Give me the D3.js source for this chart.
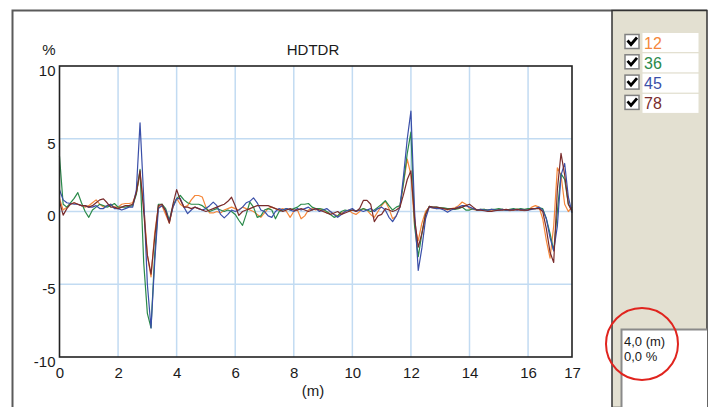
<!DOCTYPE html>
<html>
<head>
<meta charset="utf-8">
<script src="https://cdn.jsdelivr.net/npm/d3@7"></script>
<style>
  body { margin: 0; background: #fff; }
  text { font-family: Arial, "Liberation Sans", sans-serif; fill: #1a1a1a; }
</style>
</head>
<body>
<div id="chart"></div>
<script>
// distance step of the samples (m)
const step = 0.125;

const seriesNames = ["12", "36", "45", "78"];
const seriesColors = ["#f5873a", "#2a8a4a", "#3a4fa8", "#7a2c2c"];

// % readings, one value every 0.125 m from 0 to 17.5 m
const s12 = [
  0.9, 0.1, 0.3, 0.5, 0.6, 0.5, 0.4, 0.3, 0.4, 0.6,
  0.8, 0.5, 0.3, 0.4, 0.5, 0.3, 0.3, 0.5, 0.55, 0.55,
  0.6, 1.3, 2.6, 0.5, -3.0, -4.5, -1.5, 0.3, 0.4, -0.2,
  -0.8, 0.3, 0.9, 0.5, 0.3, 0.4, 0.8, 1.1, 1.1, 1.0,
  0.3, -0.1, -0.1, 0.0, -0.1, 0.1, 0.2, 0.3, 0.2, 0.1,
  0.3, 0.2, 0.1, 0.0, -0.2, -0.4, -0.1, 0.2, 0.3, 0.2,
  0.1, 0.2, 0.0, -0.4, 0.0, 0.1, -0.5, -0.3, 0.1, 0.2,
  0.1, 0.2, 0.1, -0.1, 0.0, -0.2, -0.3, -0.1, 0.0, 0.1,
  -0.1, -0.2, 0.0, 0.2, 0.1, -0.2, -0.4, 0.0, 0.4, 0.7,
  0.2, -0.5, -0.3, 0.3, 2.0, 3.6, 2.5, -1.0, -2.0, -0.8,
  0.0, 0.3, 0.25, 0.2, 0.25, 0.2, 0.1, 0.2, 0.25, 0.4,
  0.65, 0.5, 0.2, 0.15, 0.1, 0.1, 0.15, 0.1, 0.05, 0.1,
  0.1, 0.15, 0.1, 0.05, 0.1, 0.15, 0.1, 0.05, 0.1, 0.3,
  0.4, 0.3, -0.5, -2.0, -3.2, -1.0, 3.0, 2.5, 0.5, 0.0,
  0.3
];
const s36 = [
  3.8, 0.5, 0.3, 0.6, 0.9, 1.3, 0.6, 0.0, -0.4, 0.1,
  0.3, 0.5, 0.4, 0.3, 0.4, 0.55, 0.3, 0.3, 0.3, 0.35,
  0.4, 1.2, 2.9, -3.5, -7.0, -8.0, -3.0, 0.5, 0.5, 0.2,
  -0.6, 0.4, 0.9, 1.1, 0.8, 0.6, 0.5, 0.5, 0.5, 0.4,
  0.2, 0.0, 0.1, 0.2, 0.1, 0.0, 0.1, 0.0, -0.2, -0.6,
  -0.95, -0.2, 0.65, 0.3, -0.4, -0.3, 0.1, 0.2, 0.1, -0.5,
  0.0, 0.1, 0.2, 0.1, 0.2, 0.3, 0.5, 0.5, 0.55, 0.3,
  0.2, 0.2, 0.15, 0.0, -0.2, -0.4, -0.3, 0.0, 0.1, 0.05,
  0.1, 0.05, 0.1, 0.2, 0.1, 0.0, 0.1, 0.3, 0.5, 0.75,
  0.4, 0.1, 0.3, 0.4, 2.0, 4.0, 5.45, -1.0, -3.1, -1.5,
  -0.2, 0.35, 0.3, 0.3, 0.25, 0.25, 0.2, 0.2, 0.15, 0.2,
  0.3, 0.1, 0.1, 0.2, 0.1, 0.15, 0.15, 0.1, 0.15, 0.15,
  0.2, 0.15, 0.1, 0.15, 0.2, 0.15, 0.2, 0.15, 0.2, 0.2,
  0.2, 0.25, 0.2, -0.5, -1.5, -2.7, 0.0, 2.6, 2.2, 0.5,
  0.1
];
const s45 = [
  1.5, 0.8, 0.6, 0.55, 0.5, 0.5, 0.4, 0.4, 0.3, 0.3,
  0.4, 0.2, 0.2, 0.4, 0.5, 0.2, 0.2, 0.1, 0.2, 0.3,
  0.3, 1.5, 6.1, 1.0, -5.0, -8.0, -3.5, 0.2, 0.4, 0.1,
  -0.7, 0.3, 0.87, 0.9, 0.3, -0.15, 0.1, 0.3, 0.2, 0.1,
  0.2, 0.4, 0.64, 0.4, -0.2, -0.44, -0.2, 0.1, 0.0, 0.1,
  0.3, 0.6, 0.7, 0.94, 0.6, 0.1, 0.0, -0.3, -0.4, 0.0,
  0.2, 0.1, 0.2, 0.1, 0.0, 0.2, 0.1, 0.2, 0.3, 0.1,
  0.2, 0.0, 0.1, 0.2, 0.0, -0.2, -0.4, -0.2, 0.0, 0.1,
  0.2, 0.0, 0.1, 0.0, 0.1, 0.2, 0.0, 0.2, 0.3, 0.1,
  -0.4, -0.7, -0.3, 0.3, 2.5, 5.0, 6.9, 0.0, -4.05, -2.5,
  -0.5, 0.3, 0.25, 0.2, 0.2, 0.1, -0.05, 0.1, 0.2, 0.3,
  0.4, 0.4, 0.3, 0.2, 0.1, 0.15, 0.1, 0.1, 0.15, 0.1,
  0.1, 0.15, 0.1, 0.1, 0.15, 0.1, 0.15, 0.1, 0.1, 0.15,
  0.2, 0.3, 0.1, -0.5, -1.8, -2.7, -1.0, 2.5, 3.3, 1.0,
  -0.1
];
const s78 = [
  0.7, -0.25, 0.2, 0.5, 0.6, 0.5, 0.4, 0.4, 0.3, 0.4,
  0.6, 0.8, 0.87, 0.6, 0.3, 0.3, 0.2, 0.3, 0.4, 0.4,
  0.5, 1.3, 2.8, 0.0, -3.0, -4.3, -1.8, 0.4, 0.5, 0.0,
  -0.8, 0.5, 1.5, 0.8, 0.3, 0.3, 0.2, 0.3, 0.2, 0.1,
  0.0, 0.1, 0.2, 0.3, 0.4, 0.5, 0.7, 0.98, 0.4, -0.27,
  0.0, 0.1, 0.2, 0.3, 0.4, 0.4, 0.4, 0.4, 0.3, 0.2,
  0.1, 0.0, 0.1, 0.2, 0.1, 0.1, 0.2, 0.1, 0.0, 0.1,
  0.2, 0.1, 0.0, -0.1, -0.2, -0.1, 0.0, -0.2, -0.1, 0.0,
  0.1, 0.0, 0.2, 0.76, 0.76, 0.5, -0.7, -0.3, -0.2, 0.2,
  0.1, 0.0, 0.1, 0.3, 1.2, 2.2, 2.8, -0.5, -2.45, -1.5,
  -0.2, 0.35, 0.3, 0.3, 0.25, 0.2, 0.15, 0.2, 0.2, 0.25,
  0.3, 0.4, 0.5, 0.3, 0.1, 0.1, 0.05, 0.0, 0.0, 0.05,
  0.1, 0.1, 0.15, 0.1, 0.1, 0.15, 0.1, 0.1, 0.1, 0.2,
  0.2, 0.2, 0.0, -1.2, -2.8, -3.5, 1.5, 4.0, 2.5, 0.5,
  0.0
];

const xTicks = [0, 2, 4, 6, 8, 10, 12, 14, 16, 17.5];
const yTicks = [-10, -5, 0, 5, 10];
const cursorLines = ["4,0 (m)", "0,0 %"];

const W = 715, H = 407;
const svg = d3.select("#chart").append("svg")
    .attr("width", W)
    .attr("height", H);

svg.append("rect").attr("width", W).attr("height", H).attr("fill", "#fff");

// outer window frame
svg.append("path")
    .attr("d", "M12.5,407V10.5H707")
    .attr("fill", "none")
    .attr("stroke", "#5a5a5a")
    .attr("stroke-width", 2);

// side panel
svg.append("rect")
    .attr("x", 612).attr("y", 10.5)
    .attr("width", 95).attr("height", H - 10)
    .attr("fill", "#e3e0d1")
    .attr("stroke", "#333")
    .attr("stroke-width", 1.5);

const x = d3.scaleLinear().domain([0, 17.5]).range([59.5, 572]);
const y = d3.scaleLinear().domain([-10, 10]).range([357, 66]);

const plot = svg.append("g");

// grid
plot.selectAll(".vgrid")
    .data(xTicks.slice(1, -1))
    .enter().append("line")
    .attr("x1", d => x(d)).attr("x2", d => x(d))
    .attr("y1", y(10)).attr("y2", y(-10))
    .attr("stroke", "#c2dbf2").attr("stroke-width", 1.5);

plot.selectAll(".hgrid")
    .data(yTicks.slice(1, -1))
    .enter().append("line")
    .attr("x1", x(0)).attr("x2", x(17.5))
    .attr("y1", d => y(d)).attr("y2", d => y(d))
    .attr("stroke", "#c2dbf2").attr("stroke-width", 1.5);

// series
const allSeries = [s12, s36, s45, s78];
const line = d3.line()
    .x((d, i) => x(i * step))
    .y(d => y(d));

plot.selectAll(".series")
    .data(allSeries)
    .enter().append("path")
    .attr("class", "series")
    .attr("d", d => line(d))
    .attr("fill", "none")
    .attr("stroke", (d, i) => seriesColors[i])
    .attr("stroke-width", 1.2)
    .attr("stroke-linejoin", "round");

// plot border
plot.append("rect")
    .attr("x", x(0)).attr("y", y(10))
    .attr("width", x(17.5) - x(0)).attr("height", y(-10) - y(10))
    .attr("fill", "none")
    .attr("stroke", "#222")
    .attr("stroke-width", 1.6);

// axes
const xAxis = svg.append("g")
    .attr("transform", `translate(0,${y(-10)})`)
    .call(d3.axisBottom(x).tickValues(xTicks).tickSize(0).tickPadding(10)
        .tickFormat(d => Math.floor(d)));
xAxis.select(".domain").remove();
xAxis.selectAll("text").style("font-size", "15px").attr("fill", "#1a1a1a");

const yAxis = svg.append("g")
    .attr("transform", `translate(${x(0)},0)`)
    .call(d3.axisLeft(y).tickValues(yTicks).tickSize(0).tickPadding(4)
        .tickFormat(d => String(d)));
yAxis.select(".domain").remove();
yAxis.selectAll("text").style("font-size", "15px").attr("dy", "0.62em").attr("fill", "#1a1a1a");

svg.append("text")
    .attr("x", 313).attr("y", 55)
    .attr("text-anchor", "middle")
    .style("font-size", "15px")
    .text("HDTDR");

svg.append("text")
    .attr("x", 49).attr("y", 55)
    .attr("text-anchor", "middle")
    .style("font-size", "15px")
    .text("%");

svg.append("text")
    .attr("x", 313).attr("y", 396)
    .attr("text-anchor", "middle")
    .style("font-size", "15px")
    .text("(m)");

// legend with check boxes
const legend = svg.selectAll(".legend")
    .data(seriesNames)
    .enter().append("g")
    .attr("class", "legend")
    .attr("transform", (d, i) => `translate(0,${33 + i * 20.3})`);

legend.append("rect")
    .attr("x", 642.5).attr("y", 0)
    .attr("width", 56).attr("height", 19)
    .attr("fill", "#fff");

legend.append("rect")
    .attr("x", 625).attr("y", 1.5)
    .attr("width", 14).attr("height", 14)
    .attr("fill", "#fff")
    .attr("stroke", "#808080")
    .attr("stroke-width", 1.5);

legend.append("path")
    .attr("d", "M627.5,7.5 L631,11.5 L637,4.5")
    .attr("fill", "none")
    .attr("stroke", "#000")
    .attr("stroke-width", 2.8);

legend.append("text")
    .attr("x", 644).attr("y", 15.5)
    .style("font-size", "16px")
    .style("fill", (d, i) => seriesColors[i])
    .text(d => d);

// cursor read-out box
svg.append("rect")
    .attr("x", 621).attr("y", 329)
    .attr("width", 86).attr("height", 80)
    .attr("fill", "#fff");
svg.append("path")
    .attr("d", "M621.5,407V329.5H707")
    .attr("fill", "none")
    .attr("stroke", "#8a8a8a")
    .attr("stroke-width", 2);

svg.selectAll(".readout")
    .data(cursorLines)
    .enter().append("text")
    .attr("x", 624)
    .attr("y", (d, i) => 346 + i * 14.5)
    .style("font-size", "13px")
    .text(d => d);

svg.append("circle")
    .attr("cx", 642).attr("cy", 344).attr("r", 36)
    .attr("fill", "none")
    .attr("stroke", "#e0241e")
    .attr("stroke-width", 2);
</script>
</body>
</html>
